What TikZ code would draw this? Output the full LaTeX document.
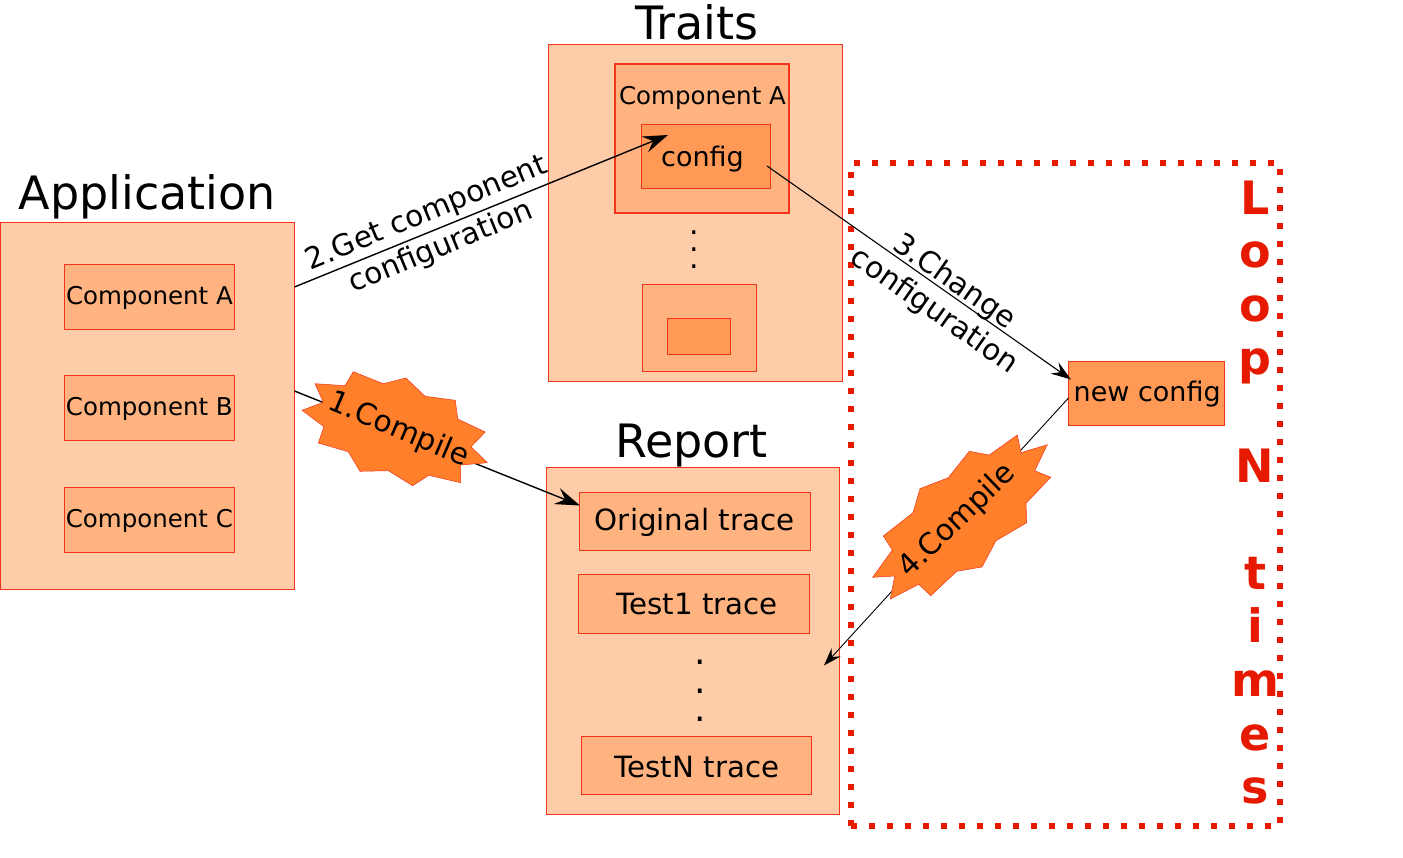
\documentclass[tikz,border=0pt]{standalone}
\usepackage{fontspec}
\setmainfont{DejaVu Sans}
\usetikzlibrary{arrows.meta}
\definecolor{panelfill}{HTML}{FFCCAA}
\definecolor{compfill}{HTML}{FFB380}
\definecolor{cfgfill}{HTML}{FF9955}
\definecolor{burstfill}{HTML}{FF7F2A}
\definecolor{edgered}{HTML}{F2341A}
\definecolor{loopred}{HTML}{E61A00}
\begin{document}
\begin{tikzpicture}[x=1pt,y=-1pt,
  panel node/.style={draw=edgered,fill=panelfill,line width=0.8pt,inner sep=0pt,minimum width=293.6pt},
  comp node/.style={draw=edgered,fill=compfill,line width=0.9pt,inner sep=0pt,minimum width=170.6pt,minimum height=64.8pt,font=\fontsize{24.5}{28}\selectfont},
  trace node/.style={draw=edgered,fill=compfill,line width=0.9pt,inner sep=0pt,minimum width=230.5pt,minimum height=58.8pt,font=\fontsize{29.3}{34}\selectfont},
  cfg node/.style={draw=edgered,fill=cfgfill,line width=0.9pt,inner sep=0pt},
  title node/.style={font=\fontsize{46}{50}\selectfont},
  edge label/.style={font=\fontsize{29.6}{37}\selectfont,align=center},
  burst/.style={draw=edgered,fill=burstfill,line width=0.5pt},
  base drop/.style={text height=2*#1,text depth=0pt},
  flow/.style={draw=black,-{Stealth[length=#1,width=0.68*#1,inset=0.36*#1]}}]

  \useasboundingbox (0,0) rectangle (1403,858);

  % left panel
  \node[panel node,minimum height=366.8pt] (app) at (147.3,405.5) {};
  \node[title node] (apptitle) at (147.5,196.5) {Application};
  \node[comp node,base drop=8.3pt] (appa) at (149.4,296.6) {Component A};
  \node[comp node,base drop=8.3pt] (appb) at (149.4,407.6) {Component B};
  \node[comp node,base drop=8.3pt] (appc) at (149.4,519.6) {Component C};

  % traits
  \node[panel node,minimum height=337pt] (traits) at (695.5,213) {};
  \node[title node] (traitstitle) at (697,22.5) {Traits};
  \node[comp node,minimum width=174pt,minimum height=149pt,line width=1.5pt] (traita) at (702,138.5) {};
  \node[font=\fontsize{24.5}{28}\selectfont] (traitalabel) at (702.5,98) {Component A};
  \node[cfg node,minimum width=129pt,minimum height=64pt,font=\fontsize{27}{32}\selectfont,base drop=10.5pt] (config) at (706,156.5) {config\hspace{7pt}\mbox{}};
  \node[align=center,font=\fontsize{30}{17}\selectfont] (traitdots) at (694,250) {.\\.\\.};
  \node[comp node,minimum width=113.5pt,minimum height=86.5pt] (traitn) at (699.2,328) {};
  \node[cfg node,minimum width=63.5pt,minimum height=36pt,line width=0.5pt] (traitncfg) at (698.7,336) {};

  % report
  \node[panel node,minimum height=346.8pt] (report) at (693,640.5) {};
  \node[title node] (reporttitle) at (691.5,445.5) {Report};
  \node[trace node,base drop=8.8pt] (orig) at (694.7,521.5) {Original trace};
  \node[trace node] (test1) at (693.7,604.2) {\hspace{7pt}Test1 trace};
  \node[align=center,font=\fontsize{36}{28.7}\selectfont] (reportdots) at (700,691) {.\\.\\.};
  \node[trace node,base drop=11.6pt] (testn) at (696.5,765.5) {\hspace{1pt}TestN trace};

  % new config
  \node[cfg node,minimum width=155.5pt,minimum height=64pt,font=\fontsize{27}{32}\selectfont,base drop=8.5pt] (newcfg) at (1146.2,393) {\hspace{2pt}new config};

  % loop frame
  \node[draw=loopred,line width=5.5pt,dash pattern=on 6pt off 12pt,inner sep=0pt,minimum width=429pt,minimum height=663pt] (loopframe) at (1065.5,494.5) {};
  \node[anchor=north,align=center,text=loopred,font=\fontsize{46}{53.6}\bfseries\selectfont] (looplabel) at (1255,177) {L\\o\\o\\p\\\mbox{}\\N\\\mbox{}\\t\\i\\m\\e\\s};

  % connector ends
  \coordinate (getfrom) at (294.5,287);
  \coordinate (getto) at (668,135);
  \coordinate (buildfrom) at (294.5,391);
  \coordinate (buildto) at (580,505.5);
  \coordinate (changefrom) at (767,166);
  \coordinate (changeto) at (1071,379.5);
  \coordinate (againfrom) at (1068.5,398);
  \coordinate (againto) at (824,665.5);

  \draw[flow=25pt,line width=1.4pt] (getfrom) -- (getto);
  \draw[flow=25pt,line width=1.4pt] (buildfrom) -- (buildto);
  \draw[flow=20pt,line width=1.1pt] (changefrom) -- (changeto);
  \draw[flow=18pt,line width=0.9pt] (againfrom) -- (againto);

  \node[edge label,rotate=22.5] (getlabel) at (434,231) {2.Get component\\configuration};
  \node[edge label,rotate=-35] (changelabel) at (944,297) {3.Change\\[-2pt]configuration};

  % bursts
  \path[burst] (353.3,371.7) -- (383.3,383.7) -- (406,378) -- (425,396.3) -- (455.3,400.3)
    -- (457.7,419) -- (485.3,432) -- (471,446.7) -- (487.3,462.7) -- (460.7,465)
    -- (460.7,482.7) -- (428.7,475.3) -- (412.7,485.7) -- (388.3,470.7) -- (360,471.3)
    -- (348.3,451.7) -- (318.3,443) -- (324,426.7) -- (302,410.3) -- (323.3,402.3)
    -- (315,383.7) -- (345,385.7) -- cycle;
  \path[burst] (1017.3,435) -- (1021,452.7) -- (1047.3,444.7) -- (1034.7,470.7) -- (1050.7,477.3)
    -- (1026,503.3) -- (1026.7,522.7) -- (996,540.7) -- (982,567) -- (956.7,571.3)
    -- (930.7,595.7) -- (918.7,584.3) -- (890.3,599) -- (894.7,576) -- (872.7,577.3)
    -- (892.3,550) -- (883.3,536) -- (913,512.7) -- (920,488.7) -- (948.3,477.7)
    -- (969.3,451.3) -- (989.3,455) -- cycle;
  \node[edge label,rotate=-23] (firstbuild) at (398.5,430) {1.Compile};
  \node[edge label,rotate=44] (secondbuild) at (957.5,521) {4.Compile};
\end{tikzpicture}
\end{document}
